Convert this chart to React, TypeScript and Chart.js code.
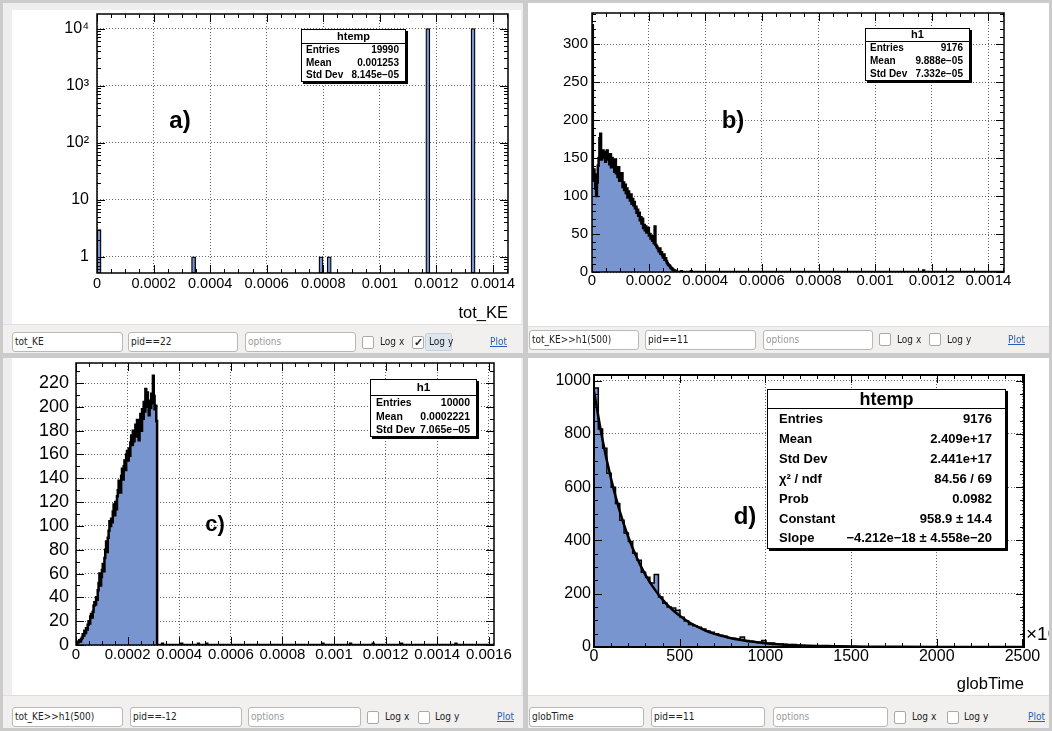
import React, { useEffect, useRef } from 'react';
import { Chart, registerables } from 'chart.js';

Chart.register(...registerables);

const FONT = '"Liberation Sans", Arial, Helvetica, sans-serif';
const CTL_FONT = '"DejaVu Sans Condensed", "DejaVu Sans", sans-serif';
const FILL = 'rgb(121,149,207)';
const GRID = 'rgba(0,0,0,0.6)';

/* ---------------- panel a : tot_KE, pid==22 (log y) ---------------- */
const A_NBINS = 100;
const A_XMAX = 0.001453;
const A_FILLED_BINS = [0, 23, 54, 56, 80, 91];
const A_FILLED_COUNTS = [3, 1, 1, 1, 9996, 9988];
const A_YMIN = 0.52;
const A_YMAX = 18000;
const A_Y_TICKS = [1, 10, 100, 1000, 10000];
const A_Y_LABELS = ['1', '10', '10²', '10³', '10⁴'];

const KE_X_TICKS = [0, 0.0002, 0.0004, 0.0006, 0.0008, 0.001, 0.0012, 0.0014];
const KE_X_LABELS = ['0', '0.0002', '0.0004', '0.0006', '0.0008', '0.001', '0.0012', '0.0014'];
const KE_X_TICKS_C = [0, 0.0002, 0.0004, 0.0006, 0.0008, 0.001, 0.0012, 0.0014, 0.0016];
const KE_X_LABELS_C = ['0', '0.0002', '0.0004', '0.0006', '0.0008', '0.001', '0.0012', '0.0014', '0.0016'];

/* ---------------- panel b : tot_KE>>h1(500), pid==11 ---------------- */
const B_NBINS = 500;
const B_XMAX = 0.001455;
const B_YMAX = 341;
const B_HEAD_COUNTS = [
  325,
  120, 135, 128, 110,
  100, 118, 140, 150, 176,
  182, 148, 155, 160, 150,
  158, 145, 152, 160, 148,
  150, 142, 155, 138, 150,
  140, 145, 132, 148, 130,
  135, 125, 138, 120, 128,
  122, 130, 112, 118, 108,
  115, 104, 110, 98, 106,
  100, 94, 102, 90, 96,
  88, 92, 84, 86, 78,
  82, 74, 78, 68, 72,
  64, 70, 58, 62, 55,
  60, 52, 56, 58, 48,
  50, 44, 47, 41, 43,
  38, 60, 36, 34, 32,
  30, 27, 31, 24, 26,
  22, 19, 23, 16, 18,
  14, 12, 10, 9, 8,
  6, 5, 4, 3, 2,
  2, 1, 1,
];
const B_EXTRA_BINS = [108, 120, 402];
const B_EXTRA_COUNTS = [1, 1, 2];
const B_Y_TICKS = [0, 50, 100, 150, 200, 250, 300];

/* ---------------- panel c : tot_KE>>h1(500), pid==-12 ---------------- */
const C_NBINS = 500;
const C_XMAX = 0.00162;
const C_YMAX = 236.8;
const C_HEAD_COUNTS = [
  1, 2, 2, 3, 4, 3, 5, 6, 9, 8,
  12, 10, 14, 13, 17, 20, 18, 24, 26, 23,
  28, 33, 36, 34, 40, 38, 46, 52, 60, 50,
  57, 63, 68, 62, 73, 80, 87, 78, 90, 96,
  104, 100, 106, 103, 112, 118, 109, 120, 114, 125,
  130, 138, 133, 128, 142, 148, 139, 150, 155, 147,
  160, 163, 155, 165, 159, 170, 176, 168, 180, 171,
  178, 185, 175, 189, 183, 172, 186, 194, 180, 198,
  190, 204, 196, 215, 206, 212, 200, 193, 205, 199,
  211, 203, 226, 209, 198, 201, 188,
];
const C_EXTRA_BINS = [103, 126, 146, 156, 295, 328, 355, 389, 454];
const C_EXTRA_COUNTS = [1, 1, 1, 1, 1, 1, 1, 1, 1];
const C_Y_TICKS = [0, 20, 40, 60, 80, 100, 120, 140, 160, 180, 200, 220];

/* ---------------- panel d : globTime, pid==11 ---------------- */
const D_NBINS = 100;
const D_XMAX = 2509;
const D_YMAX = 1021;
const D_HEAD_COUNTS = [
  972, 818, 746, 652, 600, 539, 476, 428, 396, 352,
  326, 281, 262, 240, 272, 188, 164, 150, 146, 138,
  112, 98, 84, 80, 74, 68, 60, 55, 50, 44,
  40, 35, 33, 30, 38, 24, 22, 19, 18, 24,
  14, 15, 11, 10, 9, 8, 9, 6, 6, 5,
  5, 4, 4, 3, 3, 3, 2, 2, 2, 1,
  2, 1, 1, 1, 0, 1, 1, 0, 1, 0,
  1,
];
const D_EXTRA_BINS = [88, 91];
const D_EXTRA_COUNTS = [1, 1];
const D_FIT_X = [0, 50, 100, 150, 200, 250, 300, 350, 400, 450, 500, 550, 600, 650, 700, 750, 800, 850, 900, 950, 1000, 1100, 1200, 1300, 1400, 1500, 1600, 1800, 2000, 2200, 2509];
const D_FIT_Y = [959, 777, 630, 510, 413, 335, 271, 220, 178, 144, 117, 95, 77, 62, 50, 41, 33, 27, 22, 18, 14, 9, 6, 4, 3, 2, 1.2, 0.5, 0.2, 0.1, 0];
const D_X_TICKS = [0, 500, 1000, 1500, 2000, 2500];
const D_Y_TICKS = [0, 200, 400, 600, 800, 1000];

/* ---------------- stats boxes & controls text ---------------- */
const A_STATS = { title: 'htemp', labels: ['Entries', 'Mean', 'Std Dev'], values: ['19990', '0.001253', '8.145e\u221205'] };
const B_STATS = { title: 'h1', labels: ['Entries', 'Mean', 'Std Dev'], values: ['9176', '9.888e\u221205', '7.332e\u221205'] };
const C_STATS = { title: 'h1', labels: ['Entries', 'Mean', 'Std Dev'], values: ['10000', '0.0002221', '7.065e\u221205'] };
const D_STATS = {
  title: 'htemp',
  labels: ['Entries', 'Mean', 'Std Dev', 'χ² / ndf', 'Prob', 'Constant', 'Slope'],
  values: ['9176', '2.409e+17', '2.441e+17', '84.56 / 69', '0.0982', '958.9 ± 14.4', '\u22124.212e\u221218 ± 4.558e\u221220'],
};
const A_CTL = ['tot_KE', 'pid==22', 'options'];
const B_CTL = ['tot_KE>>h1(500)', 'pid==11', 'options'];
const C_CTL = ['tot_KE>>h1(500)', 'pid==-12', 'options'];
const D_CTL = ['globTime', 'pid==11', 'options'];

/* ---------------- geometry (layout only) ---------------- */
const GEOM: any = {
  a: { canvas: { x: 12, y: 10, w: 509, h: 314 }, plot: { l: 97, t: 14, r: 508, b: 273 } },
  b: { canvas: { x: 528, y: 3, w: 521, h: 323 }, plot: { l: 592, t: 13, r: 1004, b: 272 } },
  c: { canvas: { x: 12, y: 358, w: 509, h: 337 }, plot: { l: 76, t: 363, r: 494, b: 645 } },
  d: { canvas: { x: 528, y: 358, w: 521, h: 337 }, plot: { l: 594, t: 375, r: 1024, b: 647 } },
};

/* ---------------- helpers ---------------- */
function expandCounts(n: number, head: number[], extraBins: number[], extraCounts: number[]) {
  const arr = new Array(n).fill(0);
  head.forEach((c, i) => { arr[i] = c; });
  extraBins.forEach((b, k) => { arr[b] = extraCounts[k]; });
  return arr;
}
function stepPoints(counts: number[], xmax: number) {
  const w = xmax / counts.length;
  const pts = counts.map((c, i) => ({ x: i * w, y: c }));
  pts.push({ x: xmax, y: counts[counts.length - 1] });
  return pts;
}
function linearMinors(step: number, max: number) {
  const out: number[] = [];
  for (let k = 0; k * step <= max * 1.000001; k++) out.push(k * step);
  return out;
}
function logMinors(min: number, max: number) {
  const out: number[] = [];
  for (let e = -1; e <= 5; e++) for (let k = 2; k <= 9; k++) {
    const v = k * Math.pow(10, e);
    if (v > min && v < max) out.push(v);
  }
  return out;
}

const frameTicks = {
  id: 'frameTicks',
  afterDatasetsDraw(chart: any, _a: any, o: any) {
    const { ctx } = chart;
    const { left, right, top, bottom } = chart.chartArea;
    const xs = chart.scales.x;
    const ys = chart.scales.y;
    ctx.save();
    ctx.strokeStyle = '#000';
    ctx.lineWidth = 1;
    ctx.beginPath();
    const vx = (vals: number[], len: number) => {
      for (const v of vals) {
        const p = Math.round(xs.getPixelForValue(v)) + 0.5;
        if (p < left - 0.6 || p > right + 0.6) continue;
        ctx.moveTo(p, bottom); ctx.lineTo(p, bottom - len);
        ctx.moveTo(p, top); ctx.lineTo(p, top + len);
      }
    };
    const vy = (vals: number[], len: number) => {
      for (const v of vals) {
        const p = Math.round(ys.getPixelForValue(v)) + 0.5;
        if (p < top - 0.6 || p > bottom + 0.6) continue;
        ctx.moveTo(left, p); ctx.lineTo(left + len, p);
        ctx.moveTo(right, p); ctx.lineTo(right - len, p);
      }
    };
    vx(xs.ticks.map((t: any) => t.value), o.major);
    vx(o.xMinor, o.minor);
    vy(ys.ticks.map((t: any) => t.value), o.major);
    vy(o.yMinor, o.minor);
    ctx.stroke();
    ctx.lineWidth = o.frame;
    ctx.strokeRect(left, top, right - left, bottom - top);
    ctx.restore();
  },
};

function axisX(g: any, ticks: number[], labels: string[], fontSize: number, pad: number, max: number, title?: string) {
  return {
    type: 'linear', position: 'bottom', min: 0, max, offset: false,
    grid: { color: GRID, lineWidth: 1, drawTicks: false, offset: false },
    border: { display: false, dash: [1, 2] },
    ticks: {
      autoSkip: false, maxRotation: 0, minRotation: 0, padding: pad, color: '#000',
      font: { family: FONT, size: fontSize },
      callback: (_v: any, i: number) => labels[i],
    },
    afterBuildTicks: (s: any) => { s.ticks = ticks.map((v) => ({ value: v })); },
    afterFit: (s: any) => { s.height = g.canvas.y + g.canvas.h - g.plot.b; s.paddingLeft = 0; s.paddingRight = 0; },
    title: title
      ? { display: true, text: title, align: 'end', color: '#000', font: { family: FONT, size: 16.5 }, padding: { top: 0, bottom: 1 } }
      : { display: false },
  };
}
function axisY(g: any, type: string, ticks: number[], labels: string[], fontSize: number, pad: number, min: number, max: number) {
  return {
    type, position: 'left', min, max, offset: false,
    grid: { color: GRID, lineWidth: 1, drawTicks: false, offset: false },
    border: { display: false, dash: [1, 2] },
    ticks: {
      autoSkip: false, padding: pad, color: '#000',
      font: { family: FONT, size: fontSize },
      callback: (_v: any, i: number) => labels[i],
    },
    afterBuildTicks: (s: any) => { s.ticks = ticks.map((v) => ({ value: v })); },
    afterFit: (s: any) => { s.width = g.plot.l - g.canvas.x; s.paddingTop = 0; s.paddingBottom = 0; },
  };
}
function baseOptions(g: any, plug: any) {
  return {
    responsive: false, animation: false, devicePixelRatio: 1, events: [],
    layout: { padding: { left: 0, top: g.plot.t - g.canvas.y, right: g.canvas.x + g.canvas.w - g.plot.r, bottom: 0 } },
    plugins: { legend: { display: false }, tooltip: { enabled: false }, frameTicks: plug },
  };
}
function histDataset(points: any[], width: number) {
  return {
    data: points, stepped: true, fill: 'origin', backgroundColor: FILL,
    borderColor: '#000', borderWidth: width, pointRadius: 0, borderJoinStyle: 'miter',
  };
}

function configA() {
  const g = GEOM.a;
  const w = A_XMAX / A_NBINS;
  const counts = expandCounts(A_NBINS, [], A_FILLED_BINS, A_FILLED_COUNTS);
  const data = counts.map((c, i) => ({ x: (i + 0.5) * w, y: c > 0 ? c : null }));
  return {
    type: 'bar',
    data: {
      datasets: [{
        data, backgroundColor: FILL, borderColor: '#000', borderWidth: 1.3, borderSkipped: false,
        categoryPercentage: 1, barPercentage: 1, grouped: false,
      }],
    },
    options: {
      ...baseOptions(g, { xMinor: linearMinors(0.00005, A_XMAX), yMinor: logMinors(A_YMIN, A_YMAX), major: 8, minor: 4, frame: 1.5 }),
      scales: {
        x: axisX(g, KE_X_TICKS, KE_X_LABELS, 14.5, 2, A_XMAX, 'tot_KE'),
        y: axisY(g, 'logarithmic', A_Y_TICKS, A_Y_LABELS, 16, 8, A_YMIN, A_YMAX),
      },
    },
    plugins: [frameTicks],
  };
}
function configB() {
  const g = GEOM.b;
  const counts = expandCounts(B_NBINS, B_HEAD_COUNTS, B_EXTRA_BINS, B_EXTRA_COUNTS);
  return {
    type: 'line',
    data: { datasets: [histDataset(stepPoints(counts, B_XMAX), 2.5)] },
    options: {
      ...baseOptions(g, { xMinor: linearMinors(0.00005, B_XMAX), yMinor: linearMinors(10, B_YMAX), major: 8, minor: 4, frame: 1.5 }),
      scales: {
        x: axisX(g, KE_X_TICKS, KE_X_LABELS, 15, 0, B_XMAX),
        y: axisY(g, 'linear', B_Y_TICKS, B_Y_TICKS.map(String), 15, 4, 0, B_YMAX),
      },
    },
    plugins: [frameTicks],
  };
}
function configC() {
  const g = GEOM.c;
  const counts = expandCounts(C_NBINS, C_HEAD_COUNTS, C_EXTRA_BINS, C_EXTRA_COUNTS);
  return {
    type: 'line',
    data: { datasets: [histDataset(stepPoints(counts, C_XMAX), 2.5)] },
    options: {
      ...baseOptions(g, { xMinor: linearMinors(0.00005, C_XMAX), yMinor: linearMinors(10, C_YMAX), major: 8, minor: 4, frame: 1.5 }),
      scales: {
        x: axisX(g, KE_X_TICKS_C, KE_X_LABELS_C, 15, 0.5, C_XMAX),
        y: axisY(g, 'linear', C_Y_TICKS, C_Y_TICKS.map(String), 18, 7, 0, C_YMAX),
      },
    },
    plugins: [frameTicks],
  };
}
function configD() {
  const g = GEOM.d;
  const counts = expandCounts(D_NBINS, D_HEAD_COUNTS, D_EXTRA_BINS, D_EXTRA_COUNTS);
  const fit = D_FIT_X.map((x, i) => ({ x, y: D_FIT_Y[i] }));
  return {
    type: 'line',
    data: {
      datasets: [
        { data: fit, borderColor: '#000', borderWidth: 2.5, pointRadius: 0, fill: false, cubicInterpolationMode: 'monotone' },
        histDataset(stepPoints(counts, D_XMAX), 1.5),
      ],
    },
    options: {
      ...baseOptions(g, { xMinor: linearMinors(100, D_XMAX), yMinor: linearMinors(50, D_YMAX), major: 8, minor: 4, frame: 2 }),
      scales: {
        x: axisX(g, D_X_TICKS, D_X_TICKS.map(String), 16, 0, D_XMAX, 'globTime'),
        y: axisY(g, 'linear', D_Y_TICKS, D_Y_TICKS.map(String), 16, 3, 0, D_YMAX),
      },
    },
    plugins: [frameTicks],
  };
}

function ChartCanvas({ g, make }: { g: any; make: () => any }) {
  const ref = useRef<HTMLCanvasElement>(null);
  useEffect(() => {
    const chart = new Chart(ref.current as any, make() as any);
    return () => chart.destroy();
  }, []);
  const c = g.canvas;
  return (
    <canvas
      ref={ref}
      width={c.w}
      height={c.h}
      style={{ position: 'absolute', left: c.x, top: c.y, width: c.w, height: c.h, background: '#fff' }}
    />
  );
}

function Stats({ s, g }: { s: any; g: any }) {
  const rowH = (g.h - 2 - g.titleH) / s.labels.length;
  return (
    <div style={{
      position: 'absolute', left: g.x, top: g.y, width: g.w, height: g.h, boxSizing: 'border-box',
      border: '1px solid #000', background: '#fff', boxShadow: '2px 2px 0 #000', fontFamily: FONT, color: '#000',
    }}>
      <div style={{
        height: g.titleH, boxSizing: 'border-box', borderBottom: '1px solid #000', textAlign: 'center',
        fontWeight: 'bold', fontSize: g.titleFont, lineHeight: `${g.titleH - 1}px`,
      }}>{s.title}</div>
      {s.labels.map((l: string, i: number) => (
        <div key={i} style={{
          height: rowH, display: 'flex', justifyContent: 'space-between', alignItems: 'center',
          padding: `0 ${g.padR}px 0 ${g.padL}px`, fontSize: g.font, fontWeight: 'bold', whiteSpace: 'nowrap',
        }}>
          <span>{l}</span><span>{s.values[i]}</span>
        </div>
      ))}
    </div>
  );
}

function Controls({ c, texts }: { c: any; texts: string[] }) {
  const txt = { fontFamily: CTL_FONT, fontStretch: 'condensed', fontSize: 10 } as any;
  return (
    <>
      <div style={{ position: 'absolute', left: c.bar.x, top: c.bar.y, width: c.bar.w, height: c.bar.h, background: '#f1f0ef', borderTop: '1px solid #dedede', boxSizing: 'border-box' }} />
      {c.inputs.map((r: number[], i: number) => (
        <div key={i} style={{
          ...txt, position: 'absolute', left: r[0], top: c.iy, width: r[1] - r[0], height: c.ih, boxSizing: 'border-box',
          border: '1px solid #b8b8b8', borderRadius: 3, background: '#fff', color: i === 2 ? '#9a9a9a' : '#222',
          lineHeight: `${c.ih - 2}px`, paddingLeft: 2, whiteSpace: 'nowrap', overflow: 'hidden',
        }}>{texts[i]}</div>
      ))}
      {c.hl ? (
        <div style={{ position: 'absolute', left: c.hl[0], top: c.iy + 1, width: c.hl[1] - c.hl[0], height: c.ih - 2, background: '#dde5ee', border: '1px solid #c6d0da', borderRadius: 2, boxSizing: 'border-box' }} />
      ) : null}
      {c.cb.map((x: number, i: number) => (
        <div key={'cb' + i} style={{
          position: 'absolute', left: x, top: c.iy + (c.ih - 13) / 2, width: 12, height: 13, boxSizing: 'border-box',
          border: '1px solid #a9a9a9', borderRadius: 2, background: '#fff', fontSize: 11, lineHeight: '11px',
          textAlign: 'center', color: '#222', fontWeight: 'bold',
        }}>{c.checked[i] ? '✓' : ''}</div>
      ))}
      {c.lbl.map((x: number, i: number) => (
        <div key={'l' + i} style={{ ...txt, position: 'absolute', left: x, top: c.iy, height: c.ih, lineHeight: `${c.ih}px`, color: '#222', whiteSpace: 'nowrap' }}>
          {i === 0 ? 'Log x' : 'Log y'}
        </div>
      ))}
      <div style={{ ...txt, position: 'absolute', left: c.plot, top: c.iy, height: c.ih, lineHeight: `${c.ih}px`, color: '#2a5db0', textDecoration: 'underline' }}>Plot</div>
    </>
  );
}

const STATS_GEOM: any = {
  a: { x: 301, y: 29, w: 105, h: 53, titleH: 13.5, font: 10, titleFont: 11, padL: 4, padR: 6 },
  b: { x: 865, y: 28, w: 105, h: 53, titleH: 12.5, font: 10, titleFont: 11, padL: 4, padR: 6 },
  c: { x: 370, y: 379, w: 107, h: 58, titleH: 15.5, font: 10.5, titleFont: 11.5, padL: 5, padR: 6 },
  d: { x: 767, y: 389, w: 239, h: 160, titleH: 19, font: 13, titleFont: 18, padL: 11, padR: 13 },
};
const CTL_GEOM: any = {
  a: { bar: { x: 3, y: 324, w: 520, h: 29 }, iy: 332, ih: 20, inputs: [[12, 123], [128, 238], [245, 356]], cb: [362, 412], lbl: [380, 429], plot: 490, checked: [false, true], hl: [425, 452] },
  b: { bar: { x: 528, y: 326, w: 521, h: 27 }, iy: 329.5, ih: 20, inputs: [[529, 639], [645, 756], [763, 873]], cb: [879, 929], lbl: [897, 947], plot: 1008, checked: [false, false] },
  c: { bar: { x: 3, y: 695, w: 520, h: 33 }, iy: 707, ih: 20, inputs: [[12, 123], [130, 242], [248, 361]], cb: [367, 418], lbl: [385, 435], plot: 497, checked: [false, false] },
  d: { bar: { x: 528, y: 695, w: 521, h: 33 }, iy: 707, ih: 20, inputs: [[529, 644], [651, 765], [773, 888]], cb: [894, 947], lbl: [912, 964], plot: 1028, checked: [false, false] },
};
const TAGS = [
  { t: 'a)', x: 180, y: 120, s: 24 },
  { t: 'b)', x: 733, y: 120, s: 24 },
  { t: 'c)', x: 215, y: 524, s: 22 },
  { t: 'd)', x: 745, y: 516, s: 24 },
];

export default function App() {
  useEffect(() => { document.body.style.margin = '0'; }, []);
  const panel = (x: number, y: number, w: number, h: number, bg: string) => (
    <div style={{ position: 'absolute', left: x, top: y, width: w, height: h, background: bg }} />
  );
  return (
    <div style={{ position: 'fixed', left: 0, top: 0, width: 1052, height: 731, background: '#cbcbcb', overflow: 'hidden', fontFamily: FONT }}>
      {panel(3, 3, 520, 350, '#eeeeee')}
      {panel(528, 3, 521, 350, '#eeeeee')}
      {panel(3, 358, 520, 370, '#eeeeee')}
      {panel(528, 358, 521, 370, '#eeeeee')}

      <ChartCanvas g={GEOM.a} make={configA} />
      <ChartCanvas g={GEOM.b} make={configB} />
      <ChartCanvas g={GEOM.c} make={configC} />
      <ChartCanvas g={GEOM.d} make={configD} />

      <Stats s={A_STATS} g={STATS_GEOM.a} />
      <Stats s={B_STATS} g={STATS_GEOM.b} />
      <Stats s={C_STATS} g={STATS_GEOM.c} />
      <Stats s={D_STATS} g={STATS_GEOM.d} />

      {TAGS.map((t) => (
        <div key={t.t} style={{ position: 'absolute', left: t.x, top: t.y, transform: 'translate(-50%,-50%)', fontFamily: FONT, fontWeight: 'bold', fontSize: t.s, color: '#000', whiteSpace: 'nowrap' }}>{t.t}</div>
      ))}

      <div style={{ position: 'absolute', left: 528, top: 358, width: 521, height: 337, overflow: 'hidden', pointerEvents: 'none' }}>
        <div style={{ position: 'absolute', left: 498, top: 265, fontFamily: FONT, fontSize: 19, color: '#000', whiteSpace: 'nowrap' }}>×10¹⁵</div>
      </div>

      <Controls c={CTL_GEOM.a} texts={A_CTL} />
      <Controls c={CTL_GEOM.b} texts={B_CTL} />
      <Controls c={CTL_GEOM.c} texts={C_CTL} />
      <Controls c={CTL_GEOM.d} texts={D_CTL} />
    </div>
  );
}
